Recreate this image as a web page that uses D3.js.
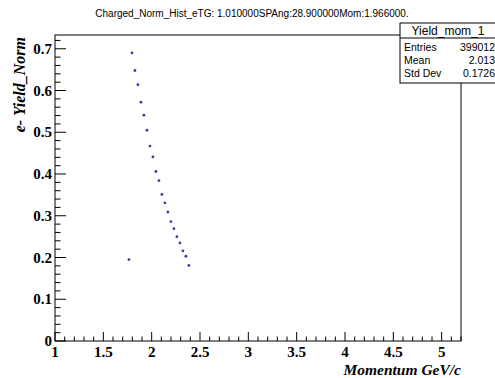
<!DOCTYPE html>
<html>
<head>
<meta charset="utf-8">
<script src="https://cdn.jsdelivr.net/npm/d3@7"></script>
<style>
  html, body { margin: 0; padding: 0; background: #fff; }
  svg { display: block; }
</style>
</head>
<body>
<svg id="chart" width="495" height="378"></svg>
<script>
// Normalised e- yield per momentum bin
const momentum = [1.765, 1.796, 1.827, 1.858, 1.889, 1.920, 1.951, 1.982, 2.013, 2.044,
                  2.075, 2.106, 2.137, 2.168, 2.199, 2.230, 2.261, 2.292, 2.323, 2.354, 2.385];
const yieldNorm = [0.195, 0.690, 0.648, 0.614, 0.572, 0.541, 0.505, 0.467, 0.441, 0.406,
                   0.384, 0.351, 0.331, 0.309, 0.286, 0.269, 0.250, 0.235, 0.216, 0.203, 0.181];

const xTicks = [1, 1.5, 2, 2.5, 3, 3.5, 4, 4.5, 5];
const yTicks = [0, 0.1, 0.2, 0.3, 0.4, 0.5, 0.6, 0.7];

const statLabels = ["Entries", "Mean", "Std Dev"];
const statValues = ["399012", "2.013", "0.1726"];

const titleText = "Charged_Norm_Hist_eTG: 1.010000SPAng:28.900000Mom:1.966000.";
const statTitle = "Yield_mom_1";

const svg = d3.select("#chart");
const frame = { left: 55, right: 461, top: 35, bottom: 341 };

const x = d3.scaleLinear().domain([1, 5.2]).range([frame.left, frame.right]);
const y = d3.scaleLinear().domain([0, 0.733]).range([frame.bottom, frame.top]);

const serif = "'Liberation Serif', 'DejaVu Serif', serif";
const sans = "'Liberation Sans', Arial, sans-serif";

// Frame
svg.append("rect")
  .attr("x", frame.left).attr("y", frame.top)
  .attr("width", frame.right - frame.left).attr("height", frame.bottom - frame.top)
  .attr("fill", "none").attr("stroke", "#000").attr("stroke-width", 1);

// X axis: major ticks every 0.5, minor every 0.1, pointing inward
const xMinor = d3.range(10, 53).map(v => v / 10);
svg.append("g").selectAll("line").data(xMinor).join("line")
  .attr("x1", d => x(d)).attr("x2", d => x(d))
  .attr("y1", frame.bottom)
  .attr("y2", d => frame.bottom - (Math.abs(d * 2 - Math.round(d * 2)) < 1e-6 ? 9 : 4.5))
  .attr("stroke", "#000").attr("stroke-width", 1);
svg.append("g").selectAll("text").data(xTicks).join("text")
  .attr("x", d => x(d)).attr("y", 357)
  .attr("text-anchor", "middle")
  .style("font-family", serif).style("font-weight", "bold").style("font-size", "15px")
  .text(d => d3.format("~g")(d));

// Y axis: major ticks every 0.1, minor every 0.02
const yMinor = d3.range(0, 37).map(v => v / 50);
svg.append("g").selectAll("line").data(yMinor).join("line")
  .attr("x1", frame.left).attr("x2", (d, i) => frame.left + (i % 5 === 0 ? 11 : 5.5))
  .attr("y1", d => y(d)).attr("y2", d => y(d))
  .attr("stroke", "#000").attr("stroke-width", 1);
svg.append("g").selectAll("text").data(yTicks).join("text")
  .attr("x", 52).attr("y", d => y(d) + 5)
  .attr("text-anchor", "end")
  .style("font-family", serif).style("font-weight", "bold").style("font-size", "15px")
  .text(d => d3.format("~g")(d));

// Axis titles
svg.append("text")
  .attr("x", frame.right).attr("y", 375)
  .attr("text-anchor", "end")
  .style("font-family", serif).style("font-weight", "bold").style("font-style", "italic")
  .style("font-size", "15.5px")
  .text("Momentum GeV/c");
svg.append("text")
  .attr("transform", `translate(25,${frame.top + 2}) rotate(-90)`)
  .attr("text-anchor", "end")
  .style("font-family", serif).style("font-weight", "bold").style("font-style", "italic")
  .style("font-size", "16px")
  .text("e- Yield_Norm");

// Plot title
svg.append("text")
  .attr("x", 252).attr("y", 17)
  .attr("text-anchor", "middle")
  .style("font-family", sans).style("font-size", "10px")
  .text(titleText);

// Data markers
svg.append("g").selectAll("circle").data(momentum).join("circle")
  .attr("cx", d => x(d)).attr("cy", (d, i) => y(yieldNorm[i]))
  .attr("r", 1.4)
  .attr("fill", "#3a3aa8");

// Statistics box
const box = { left: 400, top: 23, right: 497, bottom: 83 };
svg.append("rect")
  .attr("x", box.left).attr("y", box.top)
  .attr("width", box.right - box.left).attr("height", box.bottom - box.top)
  .attr("fill", "#fff").attr("stroke", "#000").attr("stroke-width", 1);
svg.append("line")
  .attr("x1", box.left).attr("x2", box.right).attr("y1", 38).attr("y2", 38)
  .attr("stroke", "#000");
svg.append("text")
  .attr("x", 448).attr("y", 35)
  .attr("text-anchor", "middle")
  .style("font-family", sans).style("font-size", "12px")
  .text(statTitle);
statLabels.forEach((lab, i) => {
  svg.append("text")
    .attr("x", 404).attr("y", 51 + i * 13)
    .style("font-family", sans).style("font-size", "10.5px")
    .text(lab);
  svg.append("text")
    .attr("x", 495).attr("y", 51 + i * 13)
    .attr("text-anchor", "end")
    .style("font-family", sans).style("font-size", "10.5px")
    .text(statValues[i]);
});
</script>
</body>
</html>
